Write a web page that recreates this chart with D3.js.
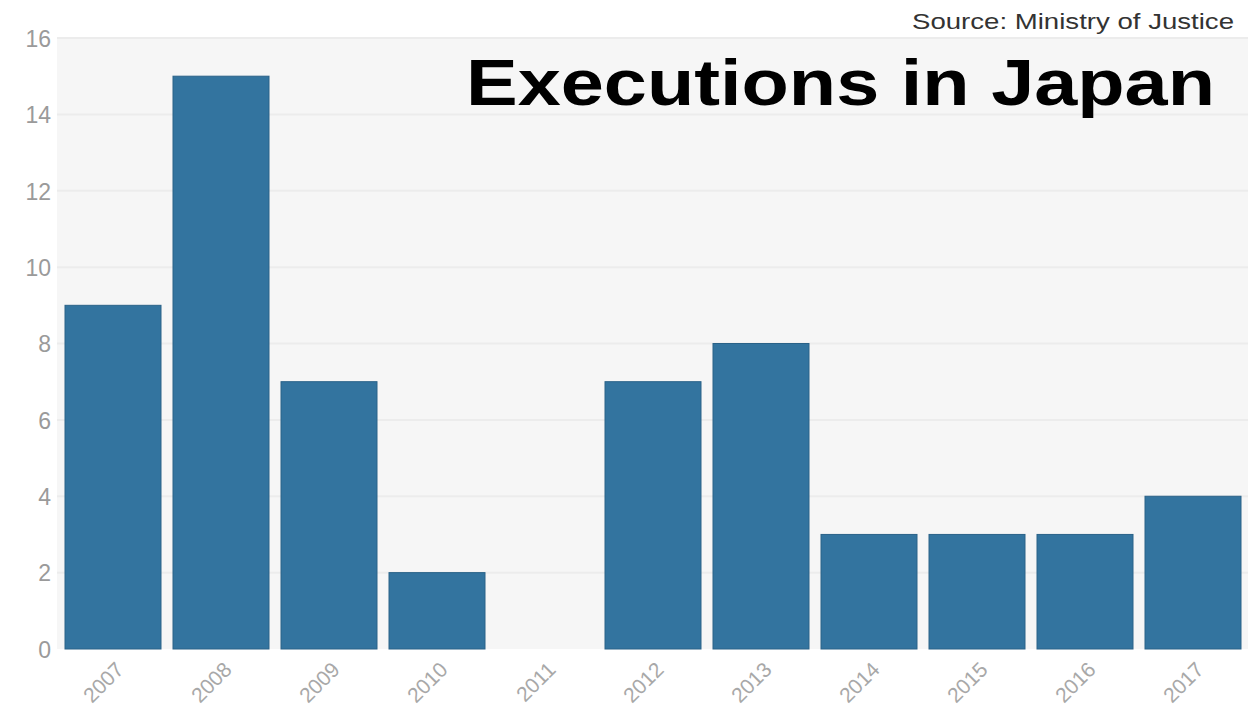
<!DOCTYPE html>
<html>
<head>
<meta charset="utf-8">
<script src="https://cdn.jsdelivr.net/npm/d3@7"></script>
<style>
  body { margin: 0; background: #fff; }
  svg { display: block; font-family: "Liberation Sans", Arial, sans-serif; }
</style>
</head>
<body>
<div class="canvas"></div>
<script>
// data
const years = ['2007','2008','2009','2010','2011','2012','2013','2014','2015','2016','2017'];
const executions = [9, 15, 7, 2, 0, 7, 8, 3, 3, 3, 4];
const yTicks = [0, 2, 4, 6, 8, 10, 12, 14, 16];

const W = 1254, H = 710;
const plot = {left: 57, right: 1248, top: 38, bottom: 649};

const svg = d3.select('.canvas').append('svg').attr('width', W).attr('height', H);

const x = d3.scaleBand().domain(years).range([65, 1241]).paddingInner(12 / 108).paddingOuter(0);
const y = d3.scaleLinear().domain([0, 16]).range([plot.bottom, plot.top]);

// plot background
svg.append('rect')
  .attr('x', plot.left).attr('y', plot.top)
  .attr('width', plot.right - plot.left).attr('height', plot.bottom - plot.top)
  .attr('fill', '#f6f6f6');

// gridlines
svg.append('g').selectAll('line').data(yTicks.slice(1)).join('line')
  .attr('x1', plot.left).attr('x2', plot.right)
  .attr('y1', d => y(d)).attr('y2', d => y(d))
  .attr('stroke', '#ececec').attr('stroke-width', 2);

// y axis labels
const yAxis = svg.append('g')
  .attr('transform', `translate(${plot.left - 6},0)`)
  .call(d3.axisLeft(y).tickValues(yTicks).tickSize(0).tickPadding(0));
yAxis.select('.domain').remove();
yAxis.selectAll('text')
  .attr('fill', '#9a9a9a').style('font-size', '23px')
  .attr('dy', '0.36em');

// bars
svg.append('g').selectAll('rect').data(years).join('rect')
  .attr('x', d => x(d))
  .attr('y', (d, i) => y(executions[i]))
  .attr('width', x.bandwidth())
  .attr('height', (d, i) => y(0) - y(executions[i]))
  .attr('fill', '#33749f')
  .attr('stroke', '#2a6288').attr('stroke-width', 1)
  .style('display', (d, i) => executions[i] === 0 ? 'none' : null);

// x axis labels, rotated
const xAxis = svg.append('g')
  .attr('transform', `translate(0,${plot.bottom})`)
  .call(d3.axisBottom(x).tickSize(0).tickPadding(0));
xAxis.select('.domain').remove();
xAxis.selectAll('text')
  .attr('fill', '#a8a8a8').style('font-size', '21px')
  .attr('text-anchor', 'end')
  .attr('dy', 0)
  .attr('transform', 'translate(12,22) rotate(-45)');

// title
svg.append('text')
  .attr('x', 466).attr('y', 105)
  .attr('textLength', 749).attr('lengthAdjust', 'spacingAndGlyphs')
  .style('font-size', '64px').style('font-weight', 'bold')
  .attr('fill', '#000')
  .text('Executions in Japan');

// source
svg.append('text')
  .attr('x', 912).attr('y', 29)
  .attr('textLength', 322).attr('lengthAdjust', 'spacingAndGlyphs')
  .style('font-size', '22px')
  .attr('fill', '#333')
  .text('Source: Ministry of Justice');
</script>
</body>
</html>
